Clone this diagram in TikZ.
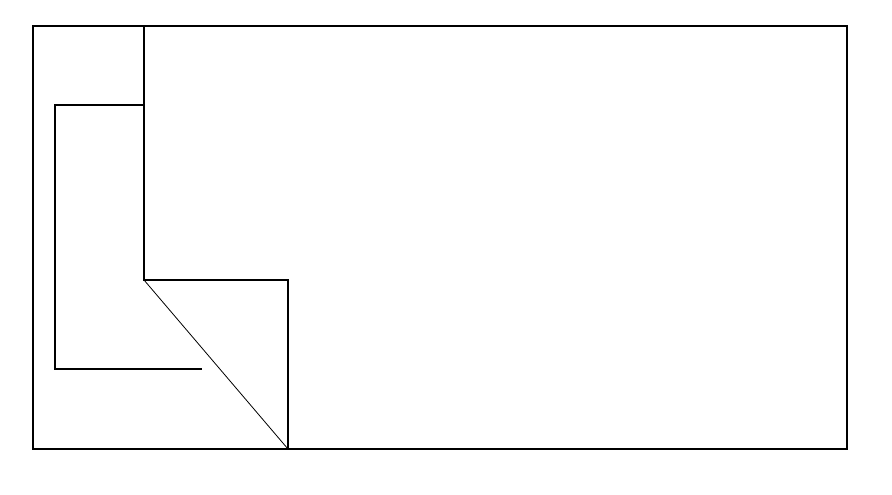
\documentclass[tikz,border=0pt]{standalone}
\begin{document}
\begin{tikzpicture}[x=1pt,y=-1pt,line width=1.2pt]
		\useasboundingbox (0,0) rectangle (892,495);
		\draw (33,26) -- (847,26) -- (847,449) -- (33,449) -- cycle;
		\draw (144,26) -- (144,280) -- (288,280) -- (288,449);
		\draw (144,105) -- (55,105) -- (55,369) -- (202,369);
		\draw[line width=0.8pt] (144,280) -- (288,449);
		\end{tikzpicture}
\end{document}
